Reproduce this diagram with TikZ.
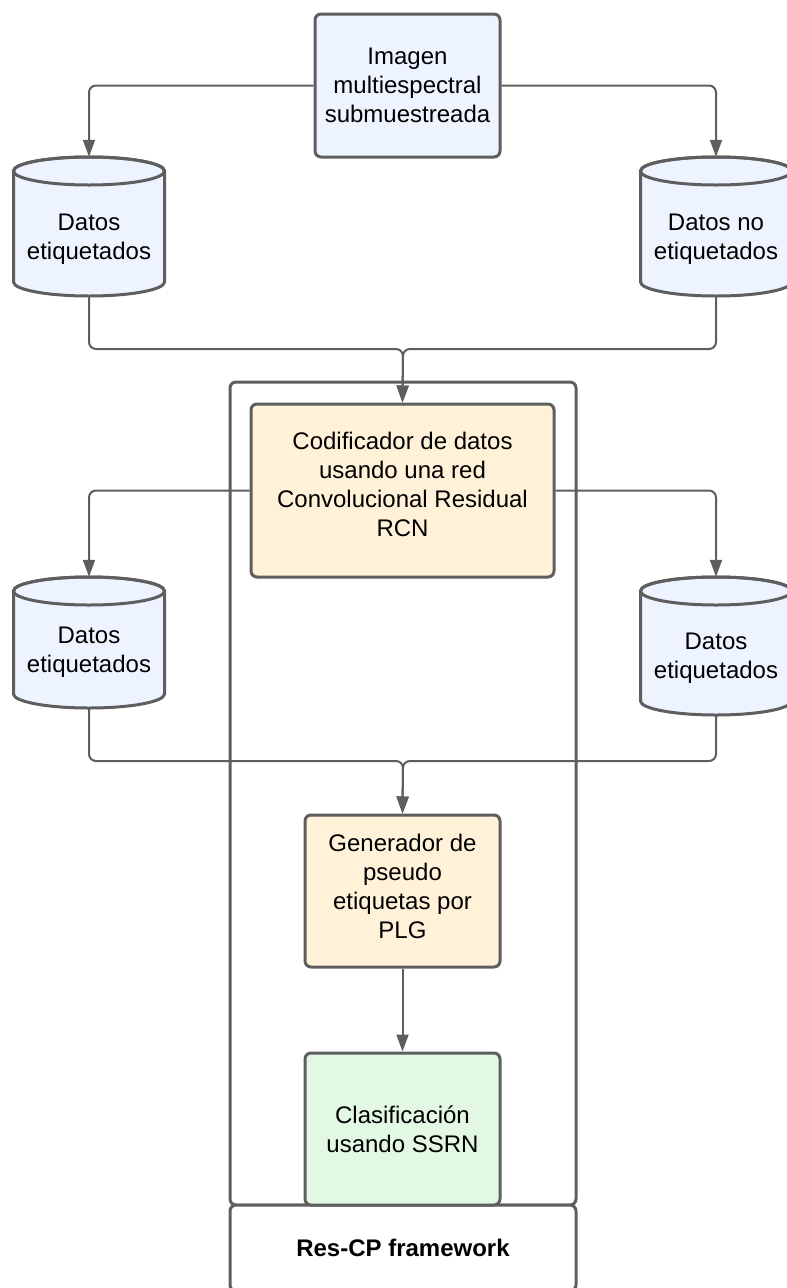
\documentclass[tikz,border=0pt]{standalone}
\usepackage{fontspec}
\setmainfont{Liberation Sans}
\usetikzlibrary{arrows.meta,calc}

\definecolor{edge}{HTML}{5E5E5E}
\definecolor{bluefill}{HTML}{EDF4FF}
\definecolor{creamfill}{HTML}{FFF2D9}
\definecolor{greenfill}{HTML}{E2F8E2}

% database cylinder outline: centre x, top y, bottom y, fill colour
\newcommand\dbshape[4]{%
  \filldraw[draw=edge, line width=3pt, fill=#4]
    ({#1-75.5},{#2+14}) -- ({#1-75.5},{#3-14})
    arc[start angle=180, end angle=360, x radius=75.5pt, y radius=14pt]
    -- ({#1+75.5},{#2+14})
    arc[start angle=0, end angle=180, x radius=75.5pt, y radius=14pt]
    -- cycle;
  \draw[edge, line width=3pt] ({#1},{#2+14}) ellipse[x radius=75.5pt, y radius=14pt];
}
% pushes cylinder text down into the body
\newcommand\dbpad[1]{\rule{0pt}{#1pt}}

\tikzset{
  base/.style={font=\fontsize{24}{29}\selectfont, align=center, inner sep=0pt},
  procbox/.style={base, draw=edge, line width=3pt, rounded corners=6pt},
  dbnode/.style={base, minimum width=151pt},
  conn/.style={draw=edge, line width=2pt, rounded corners=7pt,
    -{Triangle[length=17pt,width=12pt]}},
  line/.style={draw=edge, line width=2pt, rounded corners=7pt},
}

\begin{document}
\begin{tikzpicture}[x=1pt, y=-1pt]
\useasboundingbox (0,0) rectangle (787,1288);

% outer framework container and its caption strip
\node[procbox, minimum width=346pt, minimum height=823pt] (frame) at (403,793.5) {};
\node[procbox, fill=white, minimum width=346pt, minimum height=86pt,
      font=\fontsize{24}{29}\selectfont\bfseries] (caption) at (403,1248) {Res-CP framework};

% process boxes
\node[procbox, fill=bluefill, minimum width=185pt, minimum height=143pt] (img) at (407.5,85.5)
  {Imagen\\multiespectral\\submuestreada};
\node[procbox, fill=creamfill, minimum width=303pt, minimum height=173pt] (enc) at (402.5,490.5)
  {Codificador de datos\\usando una red\\Convolucional Residual\\RCN\rule[-12pt]{0pt}{0pt}};
\node[procbox, fill=creamfill, minimum width=195pt, minimum height=152pt] (gen) at (402.5,891)
  {Generador de\\pseudo\\etiquetas por\\PLG\rule[-9pt]{0pt}{0pt}};
\node[procbox, fill=greenfill, minimum width=195pt, minimum height=152pt] (cls) at (402.5,1129)
  {Clasificación\\usando SSRN};

% data stores
\dbshape{89}{157}{296}{bluefill}
\node[dbnode, minimum height=139pt] (d1) at (89,226.5) {\dbpad{41}Datos\\etiquetados};
\dbshape{716}{157}{296}{bluefill}
\node[dbnode, minimum height=139pt] (d2) at (716,226.5) {\dbpad{41}Datos no\\etiquetados};
\dbshape{89}{577}{708}{bluefill}
\node[dbnode, minimum height=131pt] (d3) at (89,642.5) {\dbpad{35}Datos\\etiquetados};
\dbshape{716}{577}{715}{bluefill}
\node[dbnode, minimum height=138pt] (d4) at (716,646) {\dbpad{40}Datos\\etiquetados};

% merge points
\coordinate (m1) at (403,349);
\coordinate (m2) at (403,761);

% connectors
\draw[conn] (img.west) -| (d1.north);
\draw[conn] (img.east) -| (d2.north);
\draw[conn] (d1.south) |- (m1) -- (enc.north);
\draw[conn] (d2.south) |- (m1) -- (enc.north);
\draw[conn] (enc.west) -| (d3.north);
\draw[conn] (enc.east) -| (d4.north);
\draw[conn] (d3.south) |- (m2) -- (gen.north);
\draw[conn] (d4.south) |- (m2) -- (gen.north);
\draw[conn] (gen.south) -- (cls.north);
\end{tikzpicture}
\end{document}
